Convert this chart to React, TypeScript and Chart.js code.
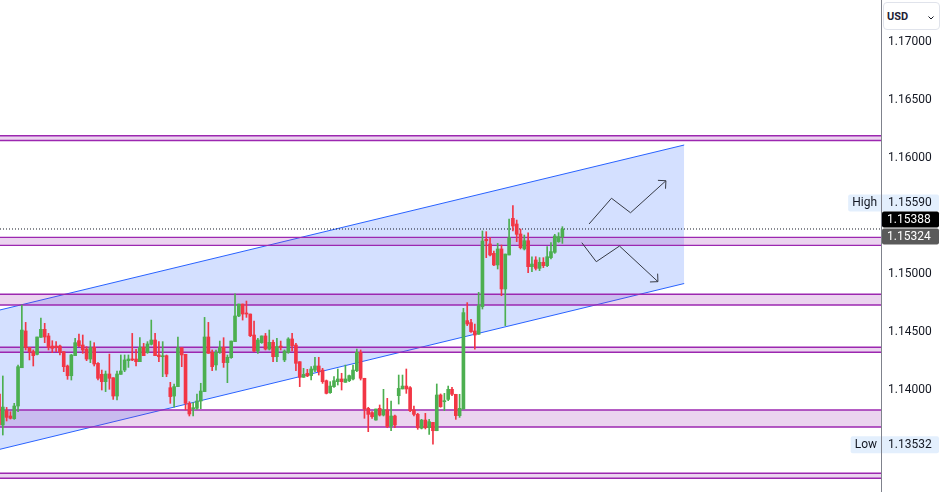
import React, { useEffect, useRef } from 'react';
import { Chart, registerables } from 'chart.js';

Chart.register(...registerables);

// ---- Candles (EUR/USD style OHLC, one per bar, oldest first) ----
const OPENS = [
  1.13965, 1.13698, 1.13822, 1.13776, 1.13753, 1.13862, 1.14192, 1.14509, 1.14368, 1.14330,
  1.14307, 1.14454, 1.14523, 1.14466, 1.14379, 1.14379, 1.14379, 1.14330, 1.14207, 1.14123,
  1.14296, 1.14425, 1.14388, 1.14353, 1.14267, 1.14368, 1.14230, 1.14135, 1.14072, 1.14138,
  1.14106, 1.13948, 1.14135, 1.14172, 1.14253, 1.14267, 1.14267, 1.14244, 1.14368, 1.14322,
  1.14394, 1.14431, 1.14302, 1.14287, 1.14296, 1.14020, 1.13948, 1.14029, 1.14365, 1.14308,
  1.13885, 1.13839, 1.13842, 1.13905, 1.13986, 1.14457, 1.14325, 1.14216, 1.14325, 1.14368,
  1.14236, 1.14279, 1.14417, 1.14638, 1.14741, 1.14661, 1.14655, 1.14474, 1.14336, 1.14408,
  1.14466, 1.14353, 1.14411, 1.14287, 1.14379, 1.14259, 1.14325, 1.14440, 1.14388, 1.14244,
  1.14109, 1.14144, 1.14124, 1.14172, 1.14207, 1.14172, 1.14080, 1.13977, 1.14029, 1.14072,
  1.14095, 1.14066, 1.14080, 1.14095, 1.14167, 1.14325, 1.14101, 1.13842, 1.13805, 1.13741,
  1.13842, 1.13784, 1.13828, 1.13690, 1.13776, 1.13951, 1.14009, 1.14034, 1.14020, 1.13828,
  1.13790, 1.13670, 1.13741, 1.13675, 1.13721, 1.13649, 1.13957, 1.13899, 1.13919, 1.14006,
  1.13963, 1.13779, 1.13836, 1.14598, 1.14581, 1.14509, 1.14480, 1.14718, 1.15299, 1.15259,
  1.15178, 1.15078, 1.15216, 1.14871, 1.15164, 1.15480, 1.15431, 1.15345, 1.15216, 1.15287,
  1.15063, 1.15121, 1.15049, 1.15101, 1.15072, 1.15141, 1.15187, 1.15279, 1.15322,
];
const HIGHS = [
  1.13980, 1.14121, 1.13850, 1.13813, 1.13885, 1.14215, 1.14733, 1.14583, 1.14368, 1.14345,
  1.14457, 1.14621, 1.14575, 1.14488, 1.14425, 1.14417, 1.14388, 1.14330, 1.14215, 1.14307,
  1.14445, 1.14483, 1.14474, 1.14374, 1.14422, 1.14408, 1.14236, 1.14172, 1.14164, 1.14310,
  1.14106, 1.14164, 1.14302, 1.14302, 1.14302, 1.14488, 1.14351, 1.14451, 1.14402, 1.14417,
  1.14603, 1.14488, 1.14417, 1.14417, 1.14302, 1.14066, 1.14052, 1.14457, 1.14365, 1.14308,
  1.13899, 1.13891, 1.13965, 1.14058, 1.14626, 1.14583, 1.14345, 1.14345, 1.14422, 1.14451,
  1.14302, 1.14422, 1.14828, 1.14741, 1.14741, 1.14767, 1.14655, 1.14595, 1.14445, 1.14466,
  1.14488, 1.14517, 1.14431, 1.14445, 1.14422, 1.14345, 1.14451, 1.14488, 1.14402, 1.14244,
  1.14187, 1.14178, 1.14201, 1.14282, 1.14282, 1.14187, 1.14086, 1.14072, 1.14115, 1.14181,
  1.14144, 1.14215, 1.14129, 1.14215, 1.14353, 1.14345, 1.14101, 1.13851, 1.13813, 1.13836,
  1.13871, 1.14006, 1.13928, 1.13905, 1.13784, 1.14129, 1.14129, 1.14181, 1.14029, 1.13862,
  1.13799, 1.13747, 1.13799, 1.13747, 1.13721, 1.14052, 1.13966, 1.13971, 1.14034, 1.14023,
  1.13963, 1.13963, 1.14704, 1.14753, 1.14609, 1.14569, 1.14842, 1.15371, 1.15365, 1.15313,
  1.15198, 1.15264, 1.15250, 1.15172, 1.15474, 1.15590, 1.15465, 1.15388, 1.15336, 1.15356,
  1.15149, 1.15149, 1.15141, 1.15141, 1.15236, 1.15270, 1.15342, 1.15356, 1.15408,
];
const LOWS = [
  1.13690, 1.13612, 1.13733, 1.13750, 1.13747, 1.13813, 1.14192, 1.14345, 1.14259, 1.14207,
  1.14302, 1.14454, 1.14408, 1.14345, 1.14322, 1.14330, 1.14302, 1.14158, 1.14092, 1.14086,
  1.14296, 1.14374, 1.14316, 1.14253, 1.14236, 1.14207, 1.14086, 1.14000, 1.13986, 1.14006,
  1.13919, 1.13914, 1.14135, 1.14158, 1.14195, 1.14253, 1.14207, 1.14244, 1.14296, 1.14316,
  1.14388, 1.14296, 1.14244, 1.14115, 1.14115, 1.13885, 1.13851, 1.14029, 1.14201, 1.13828,
  1.13776, 1.13776, 1.13833, 1.13839, 1.13986, 1.14316, 1.14167, 1.14172, 1.14316, 1.14195,
  1.14063, 1.14273, 1.14417, 1.14632, 1.14603, 1.14626, 1.14460, 1.14330, 1.14316, 1.14402,
  1.14345, 1.14345, 1.14244, 1.14244, 1.14345, 1.14244, 1.14316, 1.14336, 1.14167, 1.14029,
  1.14109, 1.14115, 1.14086, 1.14158, 1.14129, 1.14057, 1.13966, 1.13971, 1.14023, 1.14043,
  1.14000, 1.14066, 1.14072, 1.14086, 1.14158, 1.14086, 1.13756, 1.13641, 1.13756, 1.13741,
  1.13776, 1.13776, 1.13675, 1.13649, 1.13675, 1.13879, 1.14009, 1.13971, 1.13813, 1.13776,
  1.13661, 1.13664, 1.13664, 1.13618, 1.13532, 1.13649, 1.13851, 1.13822, 1.13908, 1.13951,
  1.13747, 1.13764, 1.13836, 1.14555, 1.14497, 1.14351, 1.14480, 1.14698, 1.15141, 1.15155,
  1.15072, 1.15043, 1.14813, 1.14555, 1.15164, 1.15371, 1.15279, 1.15216, 1.15207, 1.15011,
  1.15020, 1.15034, 1.15029, 1.15055, 1.15063, 1.15129, 1.15178, 1.15273, 1.15264,
];
const CLOSES = [
  1.13698, 1.13853, 1.13764, 1.13756, 1.13862, 1.14201, 1.14517, 1.14368, 1.14330, 1.14296,
  1.14457, 1.14523, 1.14457, 1.14368, 1.14359, 1.14368, 1.14325, 1.14201, 1.14123, 1.14302,
  1.14408, 1.14382, 1.14345, 1.14267, 1.14365, 1.14224, 1.14101, 1.14072, 1.14138, 1.14101,
  1.13948, 1.14138, 1.14164, 1.14259, 1.14267, 1.14259, 1.14244, 1.14368, 1.14296, 1.14397,
  1.14431, 1.14296, 1.14287, 1.14293, 1.14138, 1.13943, 1.14029, 1.14365, 1.14302, 1.13885,
  1.13793, 1.13847, 1.13905, 1.13991, 1.14457, 1.14316, 1.14201, 1.14325, 1.14368, 1.14236,
  1.14282, 1.14422, 1.14638, 1.14741, 1.14655, 1.14655, 1.14468, 1.14336, 1.14431, 1.14466,
  1.14353, 1.14411, 1.14287, 1.14374, 1.14368, 1.14336, 1.14440, 1.14382, 1.14230, 1.14109,
  1.14135, 1.14121, 1.14181, 1.14207, 1.14158, 1.14072, 1.13971, 1.14034, 1.14080, 1.14095,
  1.14072, 1.14095, 1.14124, 1.14172, 1.14325, 1.14101, 1.13836, 1.13790, 1.13770, 1.13836,
  1.13784, 1.13828, 1.13684, 1.13776, 1.13698, 1.14014, 1.14034, 1.14009, 1.13822, 1.13790,
  1.13675, 1.13741, 1.13675, 1.13727, 1.13649, 1.13957, 1.13856, 1.13908, 1.14006, 1.13963,
  1.13779, 1.13842, 1.14667, 1.14569, 1.14503, 1.14474, 1.14727, 1.15284, 1.15287, 1.15164,
  1.15078, 1.15216, 1.14871, 1.15172, 1.15313, 1.15414, 1.15342, 1.15227, 1.15287, 1.15063,
  1.15086, 1.15049, 1.15101, 1.15072, 1.15149, 1.15193, 1.15328, 1.15322, 1.15388,
];

// ---- Price axis ----
const TICK_VALUES = [1.14, 1.145, 1.15, 1.16, 1.165, 1.17];
const PRICE_MIN = 1.131207;
const PRICE_MAX = 1.173621;
const PREV_CLOSE = 1.15324;
const CURRENCY = 'USD';

// ---- Bar-index range shown (includes empty future space) ----
const X_MIN = 0.26;
const X_MAX = 231.7;

// ---- Ascending channel (bar index, price) ----
const CHANNEL_X = [0.26, 180.0];
const CHANNEL_UPPER = [1.1469, 1.16112];
const CHANNEL_LOWER = [1.13489, 1.14918];

// ---- Horizontal supply/demand zones ----
const ZONE_TOPS = [1.16192, 1.15316, 1.14825, 1.14368, 1.13828, 1.13282];
const ZONE_BOTTOMS = [1.16151, 1.15247, 1.14733, 1.14325, 1.13681, 1.13239];

// ---- Scenario arrows ----
const ARROW_UP_X = [155.0, 160.9, 165.9, 175.2];
const ARROW_UP_Y = [1.15431, 1.15653, 1.15528, 1.15804];
const ARROW_DOWN_X = [153.1, 156.9, 163.0, 173.1];
const ARROW_DOWN_Y = [1.1527, 1.15106, 1.15241, 1.14934];

const UP_COLOR = '#4caf50';
const DOWN_COLOR = '#f23645';
const TEXT_COLOR = '#131722';
const AXIS_COLOR = '#7f828c';
const FONT = 'Roboto, sans-serif';

const arrowHeads = {
  id: 'arrowHeads',
  afterDatasetsDraw(chart: any) {
    const ctx = chart.ctx;
    chart.data.datasets.forEach((ds: any, i: number) => {
      if (!ds.isArrow) return;
      const pts = chart.getDatasetMeta(i).data;
      const a = pts[pts.length - 2];
      const b = pts[pts.length - 1];
      const ang = Math.atan2(b.y - a.y, b.x - a.x);
      const len = 8;
      ctx.save();
      ctx.strokeStyle = ds.borderColor;
      ctx.lineWidth = 1;
      ctx.beginPath();
      ctx.moveTo(b.x + len * Math.cos(ang + Math.PI - Math.PI / 4), b.y + len * Math.sin(ang + Math.PI - Math.PI / 4));
      ctx.lineTo(b.x, b.y);
      ctx.lineTo(b.x + len * Math.cos(ang + Math.PI + Math.PI / 4), b.y + len * Math.sin(ang + Math.PI + Math.PI / 4));
      ctx.stroke();
      ctx.restore();
    });
  },
};

const priceLabels = {
  id: 'priceLabels',
  afterDraw(chart: any) {
    const ctx = chart.ctx;
    const ys = chart.scales.y;
    const area = chart.chartArea;
    const axisX = area.right;
    const boxH = 16;
    const right = chart.width - 2;
    const high = Math.max(...HIGHS);
    const low = Math.min(...LOWS);
    const last = CLOSES[CLOSES.length - 1];

    const yPrev = ys.getPixelForValue(PREV_CLOSE);
    let yLast = ys.getPixelForValue(last);
    if (yLast > yPrev - boxH - 1) yLast = yPrev - boxH - 1;
    let yHigh = ys.getPixelForValue(high);
    if (yHigh > yLast - boxH - 1) yHigh = yLast - boxH - 1;
    const yLow = ys.getPixelForValue(low);

    ctx.save();
    ctx.font = '12px ' + FONT;
    ctx.textBaseline = 'middle';

    const roundRect = (x: number, y: number, w: number, h: number, r: number, fill: string) => {
      ctx.fillStyle = fill;
      ctx.beginPath();
      ctx.moveTo(x + r, y);
      ctx.lineTo(x + w - r, y);
      ctx.quadraticCurveTo(x + w, y, x + w, y + r);
      ctx.lineTo(x + w, y + h - r);
      ctx.quadraticCurveTo(x + w, y + h, x + w - r, y + h);
      ctx.lineTo(x + r, y + h);
      ctx.quadraticCurveTo(x, y + h, x, y + h - r);
      ctx.lineTo(x, y + r);
      ctx.quadraticCurveTo(x, y, x + r, y);
      ctx.closePath();
      ctx.fill();
    };

    const named = (name: string, value: number, yc: number) => {
      const w = ctx.measureText(name).width;
      const left = axisX - 4 - w - 4;
      roundRect(left, yc - boxH / 2, right - left, boxH + 1, 2, '#e3effd');
      ctx.fillStyle = TEXT_COLOR;
      ctx.textAlign = 'right';
      ctx.fillText(name, axisX - 4, yc + 0.5);
      ctx.textAlign = 'left';
      ctx.fillText(value.toFixed(5), axisX + 7, yc + 0.5);
    };
    const tag = (value: number, yc: number, bg: string) => {
      roundRect(axisX + 1, yc - boxH / 2, right - axisX - 1, boxH, 2, bg);
      ctx.fillStyle = '#ffffff';
      ctx.textAlign = 'left';
      ctx.fillText(value.toFixed(5), axisX + 6, yc + 0.5);
    };

    named('High', high, yHigh);
    named('Low', low, yLow);
    tag(last, yLast, '#000000');
    tag(PREV_CLOSE, yPrev, '#5a5a5a');

    // axis line on top of the label boxes
    ctx.strokeStyle = AXIS_COLOR;
    ctx.lineWidth = 1;
    ctx.beginPath();
    ctx.moveTo(Math.round(axisX) + 0.5, 0);
    ctx.lineTo(Math.round(axisX) + 0.5, chart.height);
    ctx.stroke();
    ctx.restore();
  },
};

export default function App() {
  const canvasRef = useRef<HTMLCanvasElement | null>(null);

  useEffect(() => {
    document.body.style.margin = '0';
    const canvas = canvasRef.current;
    if (!canvas) return;

    const idx = OPENS.map((_, i) => i);
    const colors = idx.map((i) => (CLOSES[i] >= OPENS[i] ? UP_COLOR : DOWN_COLOR));
    const bodies = idx.map((i) => ({ x: i, y: [OPENS[i], CLOSES[i]] }));
    const wicks = idx.map((i) => ({ x: i, y: [LOWS[i], HIGHS[i]] }));

    const line = (xs: number[], ys: number[], extra: any) => ({
      type: 'line',
      data: xs.map((x, i) => ({ x, y: ys[i] })),
      pointRadius: 0,
      borderWidth: 1,
      tension: 0,
      fill: false,
      clip: 0,
      ...extra,
    });

    const datasets: any[] = [];
    // channel
    datasets.push(line(CHANNEL_X, CHANNEL_UPPER, { borderColor: '#2962ff', order: 6 }));
    datasets.push(
      line(CHANNEL_X, CHANNEL_LOWER, { borderColor: '#2962ff', order: 6, fill: '-1', backgroundColor: 'rgba(41,98,255,0.2)' })
    );
    // zones
    ZONE_TOPS.forEach((top, z) => {
      datasets.push(line([X_MIN, X_MAX], [top, top], { borderColor: '#9c27b0', borderWidth: 1.4, order: 5 }));
      datasets.push(
        line([X_MIN, X_MAX], [ZONE_BOTTOMS[z], ZONE_BOTTOMS[z]], {
          borderColor: '#9c27b0',
          borderWidth: 1.4,
          order: 5,
          fill: '-1',
          backgroundColor: 'rgba(156,39,176,0.2)',
        })
      );
    });
    // last price dotted line
    const last = CLOSES[CLOSES.length - 1];
    datasets.push(line([X_MIN, X_MAX], [last, last], { borderColor: '#131722', borderDash: [1, 2], order: 4 }));
    // candles
    datasets.push({
      type: 'bar',
      data: wicks,
      backgroundColor: colors,
      barThickness: 1,
      grouped: false,
      borderWidth: 0,
      order: 3,
      clip: 0,
    });
    datasets.push({
      type: 'bar',
      data: bodies,
      backgroundColor: colors,
      barThickness: 3,
      grouped: false,
      borderWidth: 0,
      minBarLength: 1,
      order: 2,
      clip: 0,
    });
    // arrows
    datasets.push(line(ARROW_UP_X, ARROW_UP_Y, { borderColor: '#363a45', order: 1, isArrow: true }));
    datasets.push(line(ARROW_DOWN_X, ARROW_DOWN_Y, { borderColor: '#363a45', order: 1, isArrow: true }));

    const chart = new Chart(canvas, {
      type: 'bar',
      data: { datasets },
      options: {
        animation: false,
        responsive: false,
        events: [],
        layout: { padding: 0 },
        plugins: { legend: { display: false }, tooltip: { enabled: false } },
        scales: {
          x: {
            type: 'linear',
            min: X_MIN,
            max: X_MAX,
            offset: false,
            display: false,
            grid: { display: false },
          },
          y: {
            type: 'linear',
            position: 'right',
            min: PRICE_MIN,
            max: PRICE_MAX,
            beginAtZero: false,
            grid: { display: false, drawTicks: false },
            border: { display: true, color: AXIS_COLOR },
            afterBuildTicks: (s: any) => {
              s.ticks = TICK_VALUES.map((v) => ({ value: v }));
            },
            afterFit: (s: any) => {
              s.width = 60;
              s.paddingTop = 0;
              s.paddingBottom = 0;
            },
            ticks: {
              padding: 7,
              color: TEXT_COLOR,
              font: { family: FONT, size: 12 },
              callback: (v: any) => Number(v).toFixed(5),
            },
          },
        },
      } as any,
      plugins: [arrowHeads, priceLabels],
    } as any);

    return () => chart.destroy();
  }, []);

  return (
    <div style={{ position: 'relative', width: 941, height: 492, background: '#ffffff' }}>
      <canvas ref={canvasRef} width={941} height={492} style={{ display: 'block' }} />
      <div
        style={{
          position: 'absolute',
          left: 883,
          top: 2,
          width: 57,
          height: 28,
          boxSizing: 'border-box',
          border: '1px solid #e0e3eb',
          borderRadius: 4,
          background: '#ffffff',
          fontFamily: FONT,
          fontSize: 11,
          fontWeight: 700,
          color: '#1e2235',
          display: 'flex',
          alignItems: 'center',
          paddingLeft: 3,
        }}
      >
        <span>{CURRENCY}</span>
        <svg width="6" height="4" style={{ position: 'absolute', left: 44, top: 13 }}>
          <polyline points="0.5,0.5 3,3 5.5,0.5" fill="none" stroke="#131722" strokeWidth="1" />
        </svg>
      </div>
    </div>
  );
}
